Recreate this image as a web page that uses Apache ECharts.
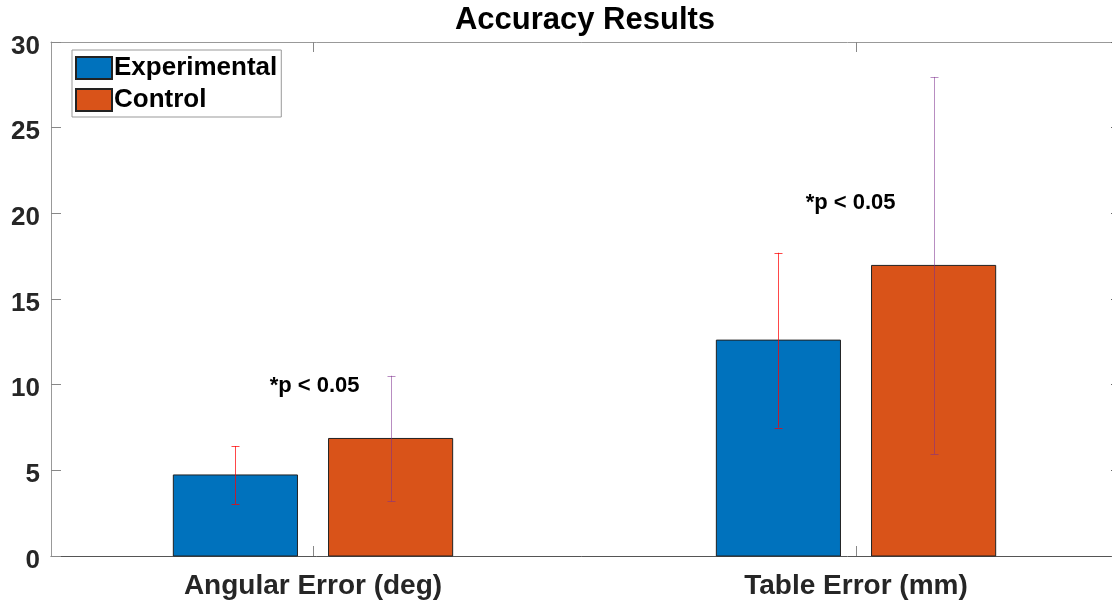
<!DOCTYPE html>
<html>
<head>
<meta charset="utf-8">
<script src="https://cdn.jsdelivr.net/npm/echarts@6/dist/echarts.min.js"></script>
<style>html,body{margin:0;padding:0;background:#fff}#c{width:1112px;height:603px}</style>
</head>
<body>
<div id="c"></div>
<script>
const categories = ['Angular Error (deg)', 'Table Error (mm)'];
const seriesNames = ['Experimental', 'Control'];
const experimentalMean = [4.73, 12.60];
const experimentalErr = [1.69, 5.10];
const controlMean = [6.86, 16.96];
const controlErr = [3.66, 11.0];
const yTicks = [0, 5, 10, 15, 20, 25, 30];
const annotationText = ['*p < 0.05', '*p < 0.05'];
const annotationX = [1.003, 1.99];
const annotationY = [9.9, 20.6];

const xMin = 0.5175, xMax = 2.488;
const groupOffset = 0.1429, barW = 0.2286;
const FONT = '"Liberation Sans", Arial, sans-serif';
const colors = ['#0072BD', '#D95319'];
const errColors = ['rgba(255,0,0,0.72)', 'rgba(126,47,142,0.55)'];

function barSeries(name, means, idx) {
  const off = idx === 0 ? -groupOffset : groupOffset;
  return {
    name: name, type: 'custom', z: 2,
    itemStyle: { color: colors[idx], borderColor: '#222', borderWidth: 1 },
    data: means.map((m, i) => [i + 1, m]),
    renderItem: function (params, api) {
      const x = api.value(0) + off, y = api.value(1);
      const p1 = api.coord([x - barW / 2, y]);
      const p2 = api.coord([x + barW / 2, 0]);
      return { type: 'rect', shape: { x: p1[0], y: p1[1], width: p2[0] - p1[0], height: p2[1] - p1[1] },
        style: { fill: colors[idx], stroke: '#222', lineWidth: 1 } };
    }
  };
}
function errSeries(means, errs, idx) {
  const off = idx === 0 ? -groupOffset : groupOffset;
  return {
    type: 'custom', z: 5, silent: true,
    data: means.map((m, i) => [i + 1, m - errs[i], m + errs[i]]),
    renderItem: function (params, api) {
      const x = api.value(0) + off;
      const lo = api.coord([x, api.value(1)]);
      const hi = api.coord([x, api.value(2)]);
      const c = Math.round(lo[0]) + 0.5, cap = 4;
      const st = { stroke: errColors[idx], lineWidth: 1 };
      return { type: 'group', children: [
        { type: 'line', shape: { x1: c, y1: lo[1], x2: c, y2: hi[1] }, style: st },
        { type: 'line', shape: { x1: c - cap, y1: Math.round(lo[1]) + 0.5, x2: c + cap, y2: Math.round(lo[1]) + 0.5 }, style: st },
        { type: 'line', shape: { x1: c - cap, y1: Math.round(hi[1]) + 0.5, x2: c + cap, y2: Math.round(hi[1]) + 0.5 }, style: st }
      ]};
    }
  };
}

const chart = echarts.init(document.getElementById('c'), null, { renderer: 'canvas' });
chart.setOption({
  backgroundColor: '#fff',
  animation: false,
  title: { text: 'Accuracy Results', left: 580, textAlign: 'center', top: 0,
    textStyle: { fontFamily: FONT, fontWeight: 'bold', fontSize: 31, color: '#000' } },
  legend: {
    left: 72, top: 50, orient: 'vertical', data: seriesNames,
    icon: 'rect', itemWidth: 36, itemHeight: 22, itemGap: 6,
    padding: [5, 4, 4, 3], borderColor: '#999', borderWidth: 1, backgroundColor: '#fff',
    textStyle: { fontFamily: FONT, fontWeight: 'bold', fontSize: 26, color: '#000', padding: [0, 0, 0, -3] }
  },
  grid: [
    { left: 51, top: 42, width: 1070, height: 514, outerBoundsMode: 'none', containLabel: false },
    { left: 51, top: 42, width: 1070, height: 0.001, outerBoundsMode: 'none', containLabel: false }
  ],
  xAxis: [{
    type: 'value', min: xMin, max: xMax, position: 'bottom', gridIndex: 0,
    axisLine: { show: true, lineStyle: { color: '#555', width: 1 } },
    axisTick: { show: true, inside: true, length: 10, customValues: [1, 2], lineStyle: { color: '#888' } },
    axisLabel: { customValues: [1, 2], formatter: v => categories[Math.round(v) - 1], margin: 16,
      fontFamily: FONT, fontWeight: 'bold', fontSize: 28, color: '#262626' },
    splitLine: { show: false }
  }, {
    type: 'value', min: xMin, max: xMax, position: 'top', gridIndex: 1,
    axisLine: { show: true, lineStyle: { color: '#999', width: 1 } },
    axisTick: { show: true, inside: true, length: 10, customValues: [1, 2], lineStyle: { color: '#888' } },
    axisLabel: { show: false }, splitLine: { show: false }
  }],
  yAxis: [{
    type: 'value', min: 0, max: 30, interval: 5, position: 'left', gridIndex: 0,
    axisLine: { show: true, lineStyle: { color: '#999', width: 1 } },
    axisTick: { show: true, inside: true, length: 10, lineStyle: { color: '#888' } },
    axisLabel: { margin: 11, fontFamily: FONT, fontWeight: 'bold', fontSize: 26, color: '#262626',
      verticalAlign: 'top', lineHeight: 9, formatter: v => yTicks.includes(v) ? String(v) : '' },
    splitLine: { show: false }
  }, {
    type: 'value', min: 0, max: 30, interval: 5, position: 'right', gridIndex: 0,
    axisLine: { show: true, lineStyle: { color: '#999', width: 1 } },
    axisTick: { show: true, inside: true, length: 10, lineStyle: { color: '#666' } },
    axisLabel: { show: false }, splitLine: { show: false }
  }, {
    type: 'value', min: 0, max: 1, gridIndex: 1, show: false
  }],
  series: [
    barSeries(seriesNames[0], experimentalMean, 0),
    barSeries(seriesNames[1], controlMean, 1),
    errSeries(experimentalMean, experimentalErr, 0),
    errSeries(controlMean, controlErr, 1),
    {
      type: 'custom', z: 6, silent: true,
      data: annotationText.map((t, i) => [annotationX[i], annotationY[i]]),
      renderItem: function (params, api) {
        const p = api.coord([api.value(0), api.value(1)]);
        return { type: 'text', x: p[0], y: p[1],
          style: { text: annotationText[params.dataIndex], textAlign: 'center', textVerticalAlign: 'middle',
            font: 'bold 22px ' + FONT, fill: '#000' } };
      }
    }
  ]
});
</script>
</body>
</html>
